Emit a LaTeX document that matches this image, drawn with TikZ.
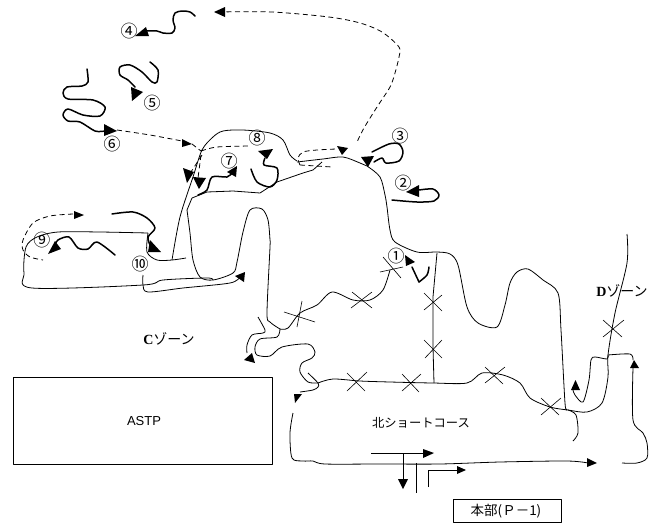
\documentclass[tikz,border=0pt]{standalone}
\usepackage{fontspec}
\setmainfont{Liberation Sans}
\newfontfamily\jpfont{Noto Sans CJK JP}
\newfontfamily\serifb{Liberation Serif}
\tikzset{
  thinline/.style={draw=black,line width=0.8pt,line join=round},
  route/.style={draw=black,line width=1.5pt,line join=round,line cap=round},
  dashroute/.style={draw=black,line width=0.8pt,dash pattern=on 5pt off 3.5pt},
  crossmark/.style={draw=black,line width=0.6pt},
  tip/.style={fill=black,draw=none},
  num/.style={inner sep=0pt,font=\fontsize{17}{17}\jpfont},
  lbl/.style={inner sep=0pt},
}
\newcommand{\curve}[2]{\draw[#1] plot[smooth,tension=0.5] coordinates {#2};}
\newcommand{\tri}[3]{\fill[tip] #1 -- #2 -- #3 -- cycle;}
\newcommand{\crossm}[4]{\draw[crossmark] #1 -- #2 #3 -- #4;}
\begin{document}
\begin{tikzpicture}[x=1pt,y=-1pt]
\useasboundingbox (0,0) rectangle (654,523);
% long dashed
\curve{dashroute}{(218,12)(272,12)(329,17)(360,23)(382,32)(399,47)(399,57)(395,73)(390,87)(377,107)(364,128)(357,142)}
\tri{(214,12)}{(225,7)}{(225,17)}
% route 4
\curve{route}{(195,16)(190,12)(182,11)(175,13)(173,20)(175,28)(172,33)(163,33)(157,31)(145,31)}
\tri{(135,36)}{(146,27)}{(149,36)}
% route 5
\curve{route}{(150,62)(158,70)(157,82)(152,82)(142,72)(130,65)(120,67)(120,75)(128,80)(135,87)}
\tri{(132,101)}{(131,87)}{(143,92)}
% route 6
\curve{route}{(87,69)(88,82)(82,86)(67,87)(63,93)(68,99)(93,100)(105,107)(100,116)(83,115)(68,109)(63,115)(68,121)(80,122)(95,131)(105,131)}
\tri{(117,131)}{(104,124)}{(104,136)}
\curve{dashroute}{(117,130)(150,135)(182,141)}
\tri{(192,144)}{(182,139)}{(182,147)}
\draw[dashroute] (192,144) -- (201,151);
% hill outer and main line
\curve{thinline}{(172,260)(180,217)(193,177)(202,150)(213,137)(223,131)(243,130)(270,133)(283,140)(290,155)(297,161)}
\curve{thinline}{(297,162)(323,159)(343,157)(360,163)(367,166)(380,177)(385,195)(387,207)(390,230)(395,242)(417,252)(437,252)(450,254)(458,265)(467,307)(478,323)(497,327)(505,305)(510,283)(517,272)(528,269)(543,280)(558,293)(561,330)(565,403)(567,409)}
\curve{dashroute}{(201,151)(217,147)(250,146)}
\draw[dashroute] (202,155) -- (189,175);
\tri{(187,183)}{(183,168)}{(194,172)}
\draw[dashroute] (201,155) -- (198,178);
\tri{(199,189)}{(193,177)}{(206,178)}
% inner hill
\draw[thinline] (192,198) -- (207,192) -- (233,191) -- (260,193) -- (277,182) -- (303,173) -- (313,170) -- (322,162);
\draw[thinline] (192,198) -- (187,210);
\curve{thinline}{(187,210)(190,233)(193,260)(200,277)(213,280)(233,273)(237,262)(243,232)(250,210)(262,209)(268,220)(270,240)(270,247)(267,313)(270,322)(280,329)}
\curve{thinline}{(280,329)(288,328)(300,313)(317,305)(332,292)(353,300)(370,300)(383,290)(390,270)}
% dashes around 3/8
\curve{dashroute}{(300,165)(298,158)(303,152)(317,150)(336,149)}
\tri{(342,155)}{(337,146)}{(348,148)}
\draw[dashroute] (300,165) -- (332,167);
% left loop
\curve{thinline}{(148,233)(100,232)(58,232)(37,237)(26,247)(24,273)(32,288)(143,285)(163,280)(207,278)(213,280)}
\curve{thinline}{(148,233)(147,252)(157,260)(172,260)(186,258)}
\curve{thinline}{(143,275)(143,285)(148,292)(183,288)(230,283)(240,277)}
\tri{(245,272)}{(235,276)}{(244,282)}
% dashed around 9
\curve{dashroute}{(73,214)(50,216)(33,223)(23,240)(23,250)(30,257)(43,260)}
\tri{(84,215)}{(74,211)}{(74,219)}
% thick 10
\curve{route}{(112,214)(133,212)(147,218)(155,228)(148,237)(150,245)}
\tri{(150,240)}{(148,252)}{(161,252)}
% route 9
\curve{route}{(115,255)(97,242)(88,249)(78,248)(69,237)(58,240)(54,247)}
\tri{(48,254)}{(55,241)}{(61,249)}
% route 7
\curve{route}{(198,195)(207,190)(212,177)(227,177)(232,173)}
\tri{(237,166)}{(227,172)}{(236,177)}
% route 8
\curve{route}{(251,169)(257,182)(270,187)(277,180)(277,168)(264,165)(265,158)}
\tri{(267,159)}{(258,151)}{(273,149)}
% route 3
\curve{route}{(372,152)(389,144)(399,144)(403,152)(399,161)(386,163)(382,158)(374,162)}
\tri{(368,167)}{(361,157)}{(374,156)}
% route 2
\curve{route}{(392,200)(417,202)(434,201)(439,195)(433,189)(419,190)}
\tri{(406,192)}{(419,185)}{(419,197)}
% route 1
\curve{route}{(429,267)(427,275)(419,282)}
\draw[route] (419,282) -- (412,267);
\tri{(405,255)}{(415,262)}{(406,266)}
% lower network
\draw[thinline] (437,253) -- (433,297) -- (433,347) -- (434,383);
\curve{thinline}{(318,383)(333,379)(360,381)(390,382)(433,383)(467,383)(482,373)(503,375)(520,383)(530,398)(550,407)(568,410)(587,412)(602,403)(608,377)(608,355)(615,313)(627,263)(627,234)}
\curve{thinline}{(568,410)(576,415)(578,433)(573,441)}
\curve{thinline}{(573,390)(575,395)(583,402)(589,380)(591,360)(595,357)(607,359)(608,355)}
\tri{(575.5,380)}{(571,390)}{(580,390)}
\curve{thinline}{(608,355)(630,354)(633,360)}
\tri{(634,360)}{(630,368)}{(639,368)}
\curve{thinline}{(633,368)(633,420)(643,433)(647,443)(647,458)(637,463)(622,463)}
\curve{thinline}{(258,317)(265,330)(263,333)(252,335)(247,345)(247,353)}
\tri{(244,360)}{(252,353)}{(255,363)}
\curve{thinline}{(280,329)(277,337)(260,339)(255,347)(257,355)(270,356)(282,347)(308,344)(315,352)(312,358)(302,363)(300,372)(308,382)(318,383)}
\curve{thinline}{(308,373)(318,383)(318,387)(313,390)(300,392)}
\tri{(295,403)}{(294,394)}{(302,394)}
\curve{thinline}{(293,413)(290,433)(292,458)(303,461)(313,461)(325,464)(380,464)(440,464)(500,462)(567,461)(588,463)}
\tri{(597,463)}{(587,458)}{(587,467)}
% bottom arrows
\draw[thinline] (371,453) -- (424,453);
\tri{(434,453)}{(423,449)}{(423,458)}
\draw[thinline] (403,453) -- (403,480);
\tri{(403,489)}{(398,479)}{(408,479)}
\draw[thinline] (416,463) -- (416,493);
\draw[thinline] (428,487) -- (428,470) -- (458,470);
\tri{(466,470)}{(457,466)}{(457,474)}
% crosses
\crossm{(383,257)}{(401,278)}{(380,272)}{(403,267)}
\crossm{(352,292)}{(372,308)}{(351,308)}{(372,292)}
\crossm{(284,312)}{(315,322)}{(302,301)}{(297,327)}
\crossm{(347,373)}{(365,391)}{(347,391)}{(367,372)}
\crossm{(402,374)}{(419,392)}{(402,391)}{(421,374)}
\crossm{(424,293)}{(442,311)}{(424,310)}{(442,295)}
\crossm{(424,340)}{(442,358)}{(425,358)}{(442,340)}
\crossm{(485,367)}{(503,384)}{(485,383)}{(505,367)}
\crossm{(541,398)}{(559,415)}{(541,415)}{(561,398)}
\crossm{(603,320)}{(622,337)}{(603,337)}{(624,320)}
% numbers
\node[num] (n1) at (396,256) {①};
\node[num] (n2) at (403,183) {②};
\node[num] (n3) at (400,136) {③};
\node[num] (n4) at (129,31) {④};
\node[num] (n5) at (152,103) {⑤};
\node[num] (n6) at (112,144) {⑥};
\node[num] (n7) at (229,161) {⑦};
\node[num] (n8) at (257,138) {⑧};
\node[num] (n9) at (42,240) {⑨};
\node[num] (n10) at (140,264) {⑩};
% boxes & labels
\draw[thinline] (13,377) rectangle (272,464);
\node[lbl,font=\fontsize{13}{13}\selectfont] (astp) at (144,421) {ASTP};
\node[lbl,font=\fontsize{12.3}{12.3}\jpfont] (north) at (421,423) {北ショートコース};
\node[lbl,font=\fontsize{13.5}{13.5}\jpfont] (honbu) at (506,511) {本部(Ｐ－1)};
\draw[thinline] (453,499) rectangle (561,522);
\node[lbl,font=\fontsize{14}{14}\jpfont] (czone) at (169,339) {{\serifb\bfseries C}ゾーン};
\node[lbl,font=\fontsize{14}{14}\jpfont] (dzone) at (622,291) {{\serifb\bfseries D}ゾーン};
\end{tikzpicture}
\end{document}
